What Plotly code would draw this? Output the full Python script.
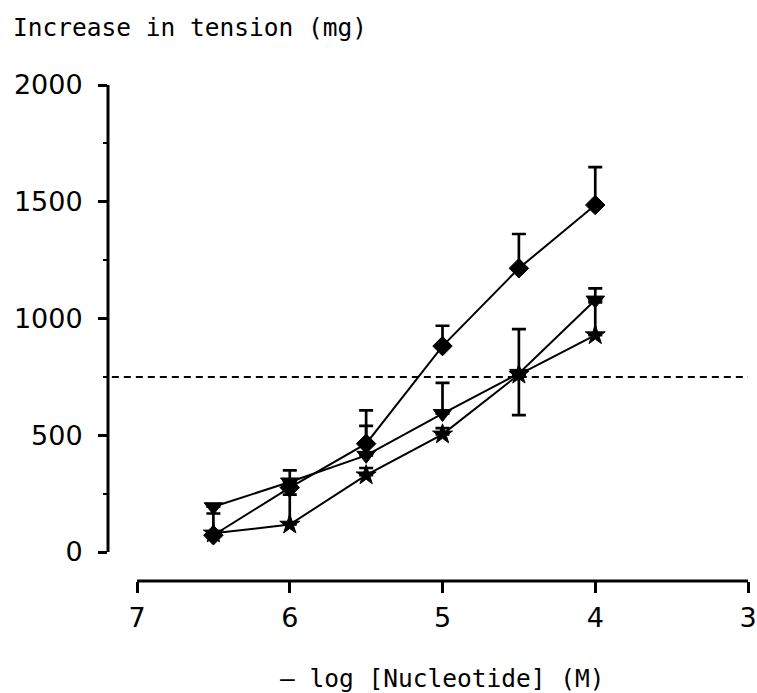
import plotly.graph_objects as go

# - log [Nucleotide] (M)
conc = [6.5, 6.0, 5.5, 5.0, 4.5, 4.0]

# Erhöhung der Spannung (mg) und Fehler nach oben / unten
diamond = [72, 276, 464, 882, 1215, 1486]
diamond_up = [93, 74, 143, 87, 147, 162]

triangle = [194, 300, 414, 593, 765, 1079]
triangle_up = [0, 0, 126, 131, 190, 50]

star = [80, 118, 329, 504, 760, 929]
star_up = [0, 128, 31, 27, 0, 140]
star_down = [0, 0, 0, 0, 174, 0]

threshold = 750

ytick_vals = [0, 500, 1000, 1500, 2000]
ytick_minor = [250, 750, 1250, 1750]
xtick_vals = [7, 6, 5, 4, 3]

tick_font = dict(family="DejaVu Sans", size=27, color="black")
title_font = dict(family="DejaVu Sans Mono", size=24.5, color="black")

fig = go.Figure()


def add_series(y, up, down, symbol, size):
    fig.add_trace(go.Scatter(
        x=conc, y=y, mode="lines+markers",
        line=dict(color="black", width=2),
        marker=dict(symbol=symbol, size=size, color="black",
                    line=dict(color="black", width=1)),
        error_y=dict(type="data", symmetric=False, array=up, arrayminus=down,
                     color="black", thickness=2.7, width=7),
        showlegend=False,
    ))


add_series(star, star_up, star_down, "star", 15)
add_series(triangle, triangle_up, [0] * 6, "triangle-down", 16)
add_series(diamond, diamond_up, [0] * 6, "diamond", 15)

# gestrichelte Linie bei 750 mg
fig.add_shape(type="line", xref="paper", yref="y", x0=0.006, x1=1,
              y0=threshold, y1=threshold,
              line=dict(color="black", width=2, dash="7px,5px"))
# Achsenlinien (vom Diagramm abgesetzt)
fig.add_shape(type="line", xref="paper", yref="y", x0=0, x1=0, y0=0, y1=2000,
              line=dict(color="black", width=3))
fig.add_shape(type="line", xref="x", yref="paper", x0=7, x1=3, y0=0, y1=0,
              line=dict(color="black", width=3))

fig.add_annotation(text="Increase in tension (mg)", xref="paper", yref="paper",
                   x=-0.152, y=1.115, xanchor="left", yanchor="middle",
                   showarrow=False, font=title_font)
fig.add_annotation(text="– log [Nucleotide] (M)", xref="x", yref="paper",
                   x=5, y=0, xanchor="center", yanchor="middle", yshift=-97,
                   showarrow=False, font=title_font)

fig.update_xaxes(range=[7.19, 3], tickvals=xtick_vals, ticks="outside", ticklen=11,
                 tickwidth=3, tickcolor="black", showgrid=False, zeroline=False,
                 showline=False, tickfont=tick_font, ticklabelstandoff=2,
                 automargin=False)
fig.update_yaxes(range=[-124, 2000], tickvals=ytick_vals, ticks="outside", ticklen=9,
                 tickwidth=3, tickcolor="black", showgrid=False, zeroline=False,
                 showline=False, tickfont=tick_font, ticklabelstandoff=10,
                 automargin=False,
                 minor=dict(tickvals=ytick_minor, ticks="outside", ticklen=4,
                            tickwidth=2, tickcolor="black", showgrid=False))

fig.update_layout(width=757, height=693, plot_bgcolor="white", paper_bgcolor="white",
                  margin=dict(l=108, r=9, t=85, b=112))

# Seitenrand entfernen, damit die Grafik das ganze Fenster füllt
fig.write_html("out.html", config={"displayModeBar": False},
               post_script="document.body.style.margin='0';")
